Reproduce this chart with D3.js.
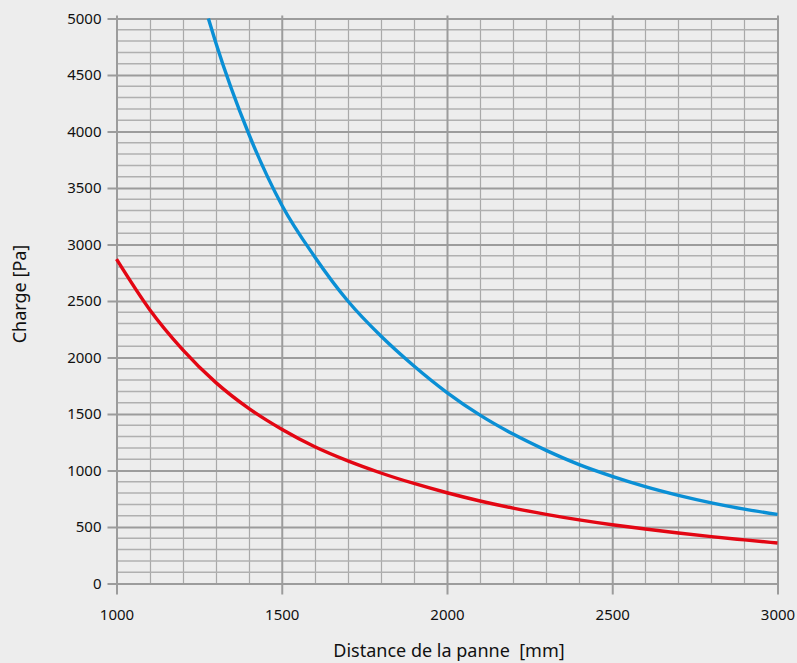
<!DOCTYPE html>
<html>
<head>
<meta charset="utf-8">
<script src="https://cdn.jsdelivr.net/npm/d3@7"></script>
<style>
  body { margin: 0; background: #ededed; }
</style>
</head>
<body>
<script>
"use strict";
// distance de la panne [mm]
const redX = [1000, 1100, 1200, 1300, 1400, 1500, 1600, 1700, 1800, 1900, 2000, 2100, 2200, 2300, 2400, 2500, 2600, 2700, 2800, 2900, 3000]
// charge [Pa]
const redY = [2870, 2425, 2070, 1780, 1550, 1365, 1210, 1085, 978, 885, 803, 730, 667, 612, 563, 520, 482, 447, 415, 386, 358]

const blueX = [1278, 1300, 1400, 1500, 1600, 1700, 1800, 1900, 2000, 2100, 2200, 2300, 2400, 2500, 2600, 2700, 2800, 2900, 3000]
const blueY = [5000, 4790, 3980, 3350, 2890, 2500, 2190, 1925, 1690, 1490, 1322, 1178, 1052, 948, 857, 780, 714, 658, 611]

const xTicks = [1000, 1500, 2000, 2500, 3000]
const yTicks = [0, 500, 1000, 1500, 2000, 2500, 3000, 3500, 4000, 4500, 5000]
const xMinor = d3.range(1000, 3001, 100)
const yMinor = d3.range(0, 5001, 100)

const font = "'Noto Sans', 'Open Sans', sans-serif"
const measurements = {
    width: 797,
    height: 663,
    left: 116.5,
    right: 777.5,
    top: 18.5,
    bottom: 583.5
}

let svg = d3.select("body").append("svg")
    .attr("width", measurements.width)
    .attr("height", measurements.height)

let scaleX = d3.scaleLinear()
    .domain([1000, 3000])
    .range([measurements.left, measurements.right])
let scaleY = d3.scaleLinear()
    .domain([0, 5000])
    .range([measurements.bottom, measurements.top])

// minor grid
let grid = svg.append("g")
grid.selectAll(".vminor")
    .data(xMinor.filter(d => d % 500 !== 0))
    .enter().append("line")
    .attr("x1", d => Math.round(scaleX(d)) + 0.5)
    .attr("x2", d => Math.round(scaleX(d)) + 0.5)
    .attr("y1", measurements.top)
    .attr("y2", measurements.bottom)
    .attr("stroke", "#a9a9a9")
    .attr("stroke-width", 1.2)
grid.selectAll(".hminor")
    .data(yMinor.filter(d => d % 500 !== 0))
    .enter().append("line")
    .attr("x1", measurements.left)
    .attr("x2", measurements.right)
    .attr("y1", d => scaleY(d))
    .attr("y2", d => scaleY(d))
    .attr("stroke", "#b0b0b0")
    .attr("stroke-width", 1.5)

// major lines drawn with the axes, ticks stretched over the plot
let xAxis = d3.axisBottom(scaleX)
    .tickValues(xTicks)
    .tickFormat(d3.format("d"))
    .tickSizeOuter(0)
let gx = svg.append("g")
    .attr("transform", `translate(0, ${measurements.bottom + 11})`)
    .call(xAxis)
    .attr("font-family", font)
    .attr("font-size", 15)
gx.select(".domain").remove()
gx.selectAll(".tick line")
    .attr("y1", 0)
    .attr("y2", -(measurements.bottom - measurements.top) - 14)
    .attr("stroke", "#9c9c9c")
    .attr("stroke-width", 2)
gx.selectAll(".tick text")
    .attr("y", 15)
    .attr("fill", "#111")

let yAxis = d3.axisLeft(scaleY)
    .tickValues(yTicks)
    .tickFormat(d3.format("d"))
    .tickSizeOuter(0)
let gy = svg.append("g")
    .attr("transform", `translate(${measurements.left - 9}, 0)`)
    .call(yAxis)
    .attr("font-family", font)
    .attr("font-size", 15)
gy.select(".domain").remove()
gy.selectAll(".tick line")
    .attr("x1", 0)
    .attr("x2", measurements.right - measurements.left + 9)
    .attr("stroke", "#9c9c9c")
    .attr("stroke-width", 2)
gy.selectAll(".tick text")
    .attr("x", -6)
    .attr("fill", "#111")

// curves
const line = d3.line()
    .x(d => scaleX(d[0]))
    .y(d => scaleY(d[1]))
    .curve(d3.curveMonotoneX)

svg.append("path")
    .datum(blueX.map((x, i) => [x, blueY[i]]))
    .attr("d", line)
    .attr("fill", "none")
    .attr("stroke", "#0a8fd5")
    .attr("stroke-width", 3.4)

svg.append("path")
    .datum(redX.map((x, i) => [x, redY[i]]))
    .attr("d", line)
    .attr("fill", "none")
    .attr("stroke", "#e30613")
    .attr("stroke-width", 3.4)

// axis titles
svg.append("text")
    .attr("transform", "translate(26, 294) rotate(-90)")
    .attr("text-anchor", "middle")
    .attr("font-family", font)
    .attr("font-size", 18)
    .attr("fill", "#111")
    .text("Charge [Pa]")

svg.append("text")
    .attr("x", 449)
    .attr("y", 657)
    .attr("text-anchor", "middle")
    .attr("font-family", font)
    .attr("font-size", 18)
    .attr("fill", "#111")
    .text("Distance de la panne\u00a0\u00a0[mm]")
</script>
</body>
</html>
